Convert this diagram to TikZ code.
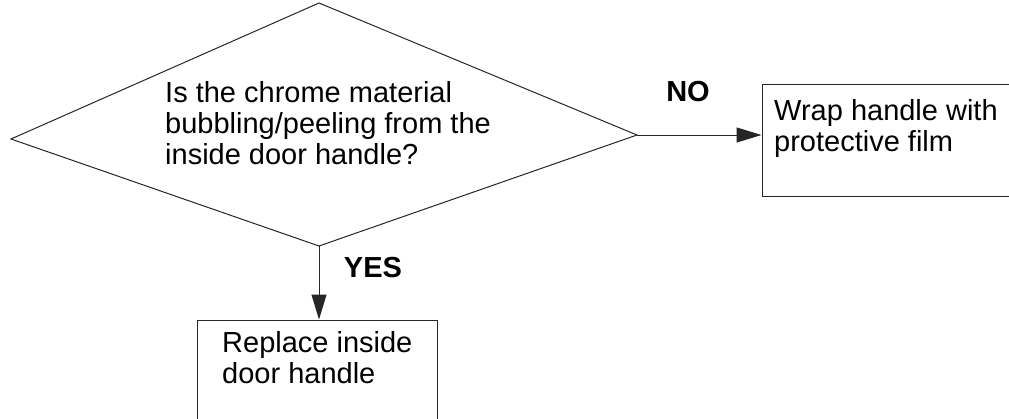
\documentclass[tikz,border=0pt]{standalone}
\usepackage{fontspec}
\setmainfont{Liberation Sans}
\usetikzlibrary{arrows.meta}

\tikzset{
  line/.style={draw=black!85, line width=1pt},
  flow/.style={line, -{Triangle[length=25pt,width=15pt]}},
  box/.style={line, rectangle, inner sep=0pt},
  txt/.style={anchor=north west, align=left, inner sep=0pt, font=\fontsize{29}{31}\selectfont},
  answer/.style={inner sep=0pt, font=\fontsize{29}{31}\selectfont\bfseries}
}

\begin{document}
\begin{tikzpicture}[x=1pt, y=-1pt]
    \useasboundingbox (0,0) rectangle (1009,418);

    % Decision diamond
    \coordinate (qL) at (11,139);
    \coordinate (qT) at (319,3);
    \coordinate (qR) at (637,135);
    \coordinate (qB) at (319,246);
    \draw[line] (qL) -- (qT) -- (qR) -- (qB) -- cycle;
    \node[txt] (qtext) at (165,81) {Is the chrome material\\bubbling/peeling from the\\inside door handle?};

    % Action boxes (cut off by the page edge)
    \node[box, minimum width=268pt, minimum height=112pt] (wrap) at (896,140) {};
    \node[txt] (wraptext) at (774,99) {Wrap handle with\\protective film};

    \node[box, minimum width=240pt, minimum height=120pt] (replace) at (317,380) {};
    \node[txt] (replacetext) at (222,331) {Replace inside\\door handle};

    % Connectors
    \draw[flow] (qR) -- (qR -| wrap.west);
    \draw[flow] (qB) -- (qB |- replace.north);

    % Answer labels
    \node[answer] (no) at (688,92) {NO};
    \node[answer] (yes) at (373,268) {YES};
\end{tikzpicture}
\end{document}
